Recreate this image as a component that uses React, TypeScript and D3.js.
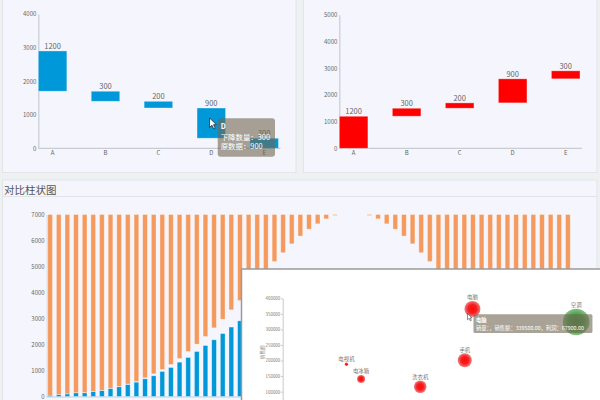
import React, { useEffect, useRef } from 'react';
import * as d3 from 'd3';

// waterfall data (two small panels on top)
const stepCats = ['A', 'B', 'C', 'D', 'E'];
const dropValues = [1200, 300, 200, 900, 300];
const riseValues = [1200, 300, 200, 900, 300];
const dropTicks = [0, 1000, 2000, 3000, 4000];
const riseTicks = [0, 1000, 2000, 3000, 4000, 5000];

// 对比柱状图: blue bars from 0, orange bars hang from the 7000 line down to orangeFrom
const compareBlue = [
  51, 77, 100, 141, 141, 190, 230, 308, 372, 460, 550, 680, 795, 962, 1115, 1320, 1500, 1730, 1960, 2180,
  2420, 2670, 2910, 3150, 3380, 3600, 3800, 3980, 4130, 4260, 4370, 4450, 4510, 4550, 4570, 4580, 4570,
  4550, 4510, 4450, 4370, 4260, 4130, 3980, 3800, 3600, 3380, 3150, 2910, 2670, 2420, 2180, 1960, 1730,
  1500, 1320, 1115, 962, 795, 680, 550,
];
const compareOrangeFrom = [
  50, 80, 100, 145, 150, 200, 240, 320, 385, 480, 575, 718, 872, 1038, 1230, 1460, 1730, 2013, 2308, 2641,
  2974, 3333, 3690, 4060, 4440, 4820, 5192, 5530, 5872, 6170, 6436, 6641, 6833, 6962, 7000, 7000, 7000,
  6962, 6833, 6641, 6436, 6170, 5872, 5530, 5192, 4820, 4440, 4060, 3690, 3333, 2974, 2641, 2308, 2013,
  1730, 1460, 1230, 1038, 872, 718, 575,
];
const compareTop = 7000;
const compareTicks = [0, 1000, 2000, 3000, 4000, 5000, 6000, 7000];
const compareCats = compareBlue.map((_, i) => String(i + 1));

// bubble chart (overlay)
const productNames = ['电视机', '电冰箱', '洗衣机', '手机', '电脑', '空调'];
const productSales = [830, 1020, 1790, 2370, 2470, 3820];
const productRevenue = [188000, 141000, 116000, 201000, 366000, 324000];
const productProfit = [3400, 17000, 42000, 52000, 67900, 188000];
const revenueTicks = [100000, 150000, 200000, 250000, 300000, 350000, 400000];

const FONT = '"Noto Sans CJK SC", "Noto Sans", sans-serif';
const PANEL_BG = '#f5f6fd';
const BLUE = '#0098d9';
const ORANGE = '#f59a5e';
const TIP_BG = 'rgba(112,102,82,0.6)';
const plain = d3.format('d');

const cursorPath = 'M0,0 L0,11.5 L3,8.8 L5.2,13.4 L7,12.6 L4.9,8.1 L8.4,8.1 Z';

const App = () => {
  const svgRef = useRef<SVGSVGElement>(null);

  useEffect(() => {
    if (!svgRef.current) return;
    const svg = d3.select(svgRef.current);
    svg.selectAll('*').remove();

    const defs = svg.append('defs');
    const red = defs.append('radialGradient').attr('id', 'bubbleRed');
    red.append('stop').attr('offset', '0%').attr('stop-color', '#ff0a0a');
    red.append('stop').attr('offset', '55%').attr('stop-color', '#f52020');
    red.append('stop').attr('offset', '100%').attr('stop-color', 'rgba(238,80,80,0.75)');
    const green = defs.append('radialGradient').attr('id', 'bubbleGreen');
    green.append('stop').attr('offset', '0%').attr('stop-color', '#3f8f3f');
    green.append('stop').attr('offset', '60%').attr('stop-color', '#4fa04f');
    green.append('stop').attr('offset', '100%').attr('stop-color', 'rgba(100,180,100,0.8)');

    // page background
    svg.append('rect').attr('width', 600).attr('height', 400).attr('fill', '#edf1f2');

    // ---------- waterfall panels ----------
    const drawWaterfall = (
      left: number,
      values: number[],
      ticks: number[],
      xRange: [number, number],
      yRange: [number, number],
      color: string,
      falling: boolean,
    ) => {
      const g = svg.append('g');
      g.append('rect')
        .attr('x', left).attr('y', -2).attr('width', 293.5).attr('height', 174.5)
        .attr('fill', PANEL_BG).attr('stroke', '#e1e5ea');

      const x = d3.scaleBand().domain(stepCats).range(xRange).paddingInner(0.46).paddingOuter(0);
      const y = d3.scaleLinear().domain([ticks[0], ticks[ticks.length - 1]]).range(yRange);

      let running = falling ? d3.sum(values) : 0;
      const steps = values.map((v, i) => {
        const lo = falling ? running - v : running;
        const hi = falling ? running : running + v;
        running = falling ? running - v : running + v;
        return { cat: stepCats[i], v, lo, hi };
      });

      const yAxis = g.append('g')
        .attr('transform', `translate(${xRange[0]},0)`)
        .call(d3.axisLeft(y).tickValues(ticks).tickFormat(plain).tickSize(0).tickSizeOuter(0).tickPadding(2));
      const xAxis = g.append('g')
        .attr('transform', `translate(0,${yRange[0]})`)
        .call(d3.axisBottom(x).tickSize(0).tickSizeOuter(0).tickPadding(2));
      [yAxis, xAxis].forEach((a) => {
        a.select('.domain').attr('stroke', '#c9ccd2').attr('stroke-width', 1.2);
        a.selectAll('text').attr('fill', '#666').style('font-size', '6px').style('font-family', FONT);
      });
      xAxis.select('.domain').attr('d', `M${xRange[0]},0H${xRange[1] + 2}`);

      g.selectAll('rect.step')
        .data(steps)
        .join('rect')
        .attr('class', 'step')
        .attr('x', (d) => x(d.cat)!)
        .attr('width', x.bandwidth())
        .attr('y', (d) => y(d.hi))
        .attr('height', (d) => y(d.lo) - y(d.hi))
        .attr('fill', color)
        .attr('stroke', 'rgba(255,255,255,0.45)')
        .attr('stroke-width', 0.8);

      g.selectAll('text.lbl')
        .data(steps)
        .join('text')
        .attr('class', 'lbl')
        .attr('x', (d) => x(d.cat)! + x.bandwidth() / 2)
        .attr('y', (d) => y(d.hi) - 2)
        .attr('text-anchor', 'middle')
        .attr('fill', '#666')
        .style('font-size', '7.5px')
        .style('font-family', FONT)
        .text((d) => d.v);

      return { g, x, y, steps };
    };

    const leftWf = drawWaterfall(2.5, dropValues, dropTicks, [38.3, 278.5], [148.3, 14], BLUE, true);
    drawWaterfall(303.5, riseValues, riseTicks, [339.3, 580], [148.3, 14.7], '#ff0000', false);

    // tooltip on bar D of the falling waterfall
    {
      const d = leftWf.steps[3];
      const bx = leftWf.x(d.cat)!;
      const by = leftWf.y(d.hi);
      const cx = bx + 12.5;
      const cy = by + 10;
      leftWf.g.append('path')
        .attr('d', cursorPath)
        .attr('transform', `translate(${cx},${cy}) scale(0.82)`)
        .attr('fill', '#fff').attr('stroke', '#222').attr('stroke-width', 0.9);
      const tx = bx + 20.7;
      const ty = by + 10.3;
      leftWf.g.append('rect')
        .attr('x', tx).attr('y', ty).attr('width', 57.3).attr('height', 38.4).attr('rx', 3)
        .attr('fill', TIP_BG);
      const lines = [
        { t: d.cat, bold: true },
        { t: `下降数量：${dropValues[4]}`, bold: false },
        { t: `原数据：${d.v}`, bold: false },
      ];
      lines.forEach((l, i) => {
        leftWf.g.append('text')
          .attr('x', tx + 3)
          .attr('y', ty + 11 + i * 8.6 + (i > 0 ? 2.4 : 0))
          .attr('fill', '#fff')
          .attr('font-weight', l.bold ? 'bold' : 'normal')
          .style('font-size', l.bold ? '7px' : '7.4px')
          .style('font-family', FONT)
          .text(l.t);
      });
    }

    // ---------- 对比柱状图 ----------
    svg.append('rect')
      .attr('x', 2.5).attr('y', 180).attr('width', 594.5).attr('height', 230)
      .attr('fill', PANEL_BG).attr('stroke', '#e1e5ea');
    svg.append('line')
      .attr('x1', 2.5).attr('x2', 597).attr('y1', 196.5).attr('y2', 196.5)
      .attr('stroke', '#e1e5ea').attr('stroke-width', 1.2);
    svg.append('text')
      .attr('x', 4).attr('y', 194)
      .attr('fill', '#555')
      .style('font-size', '10.5px')
      .style('font-family', FONT)
      .text('对比柱状图');

    const cx = d3.scaleBand().domain(compareCats).range([45.8, 572.2]).paddingInner(0.455).paddingOuter(0.2275);
    const cy = d3.scaleLinear().domain([0, compareTop]).range([396.5, 214.5]);

    const cAxisY = svg.append('g')
      .attr('transform', 'translate(46.7,0)')
      .call(d3.axisLeft(cy).tickValues(compareTicks).tickFormat(plain).tickSize(0).tickSizeOuter(0).tickPadding(2));
    cAxisY.select('.domain').attr('stroke', '#d3d6db').attr('stroke-width', 1);
    cAxisY.selectAll('text').attr('fill', '#666').style('font-size', '6px').style('font-family', FONT);
    svg.append('g')
      .attr('transform', 'translate(0,396.5)')
      .call(d3.axisBottom(cx).tickValues([]).tickSizeOuter(0))
      .select('.domain').attr('stroke', '#c9ccd2').attr('stroke-width', 1.2);

    svg.selectAll('rect.cblue')
      .data(compareBlue)
      .join('rect')
      .attr('class', 'cblue')
      .attr('x', (_, i) => cx(compareCats[i])!)
      .attr('width', cx.bandwidth())
      .attr('y', (d) => cy(d))
      .attr('height', (d) => cy(0) - cy(d))
      .attr('fill', BLUE)
      .attr('stroke', 'rgba(255,255,255,0.45)')
      .attr('stroke-width', 0.7);

    svg.selectAll('rect.corange')
      .data(compareOrangeFrom)
      .join('rect')
      .attr('class', 'corange')
      .attr('x', (_, i) => cx(compareCats[i])!)
      .attr('width', cx.bandwidth())
      .attr('y', cy(compareTop))
      .attr('height', (d) => cy(d) - cy(compareTop))
      .attr('fill', ORANGE)
      .attr('stroke', (d) => (d >= compareTop ? 'none' : 'rgba(255,255,255,0.45)'))
      .attr('stroke-width', 0.7);

    // ---------- bubble chart overlay ----------
    const sg = svg.append('g');
    sg.append('rect')
      .attr('x', 241.5).attr('y', 269).attr('width', 362).attr('height', 140)
      .attr('fill', '#fff').attr('stroke', '#9a9a9a').attr('stroke-width', 1.5);

    const sx = d3.scaleLinear().domain([0, 4000]).range([282.7, 590]);
    const sy = d3.scaleLinear().domain([0, 400000]).range([422.8, 298.3]);
    const sr = d3.scaleSqrt().domain([0, 67900]).range([0, 8]);

    const sAxis = sg.append('g')
      .attr('transform', 'translate(282.7,0)')
      .call(d3.axisLeft(sy).tickValues(revenueTicks).tickFormat(plain).tickSize(1.5).tickSizeOuter(0).tickPadding(1));
    sAxis.select('.domain').attr('stroke', '#bbb').attr('stroke-width', 0.8);
    sAxis.selectAll('line').attr('stroke', '#bbb');
    sAxis.selectAll('text').attr('fill', '#777').style('font-size', '4.4px').style('font-family', FONT);
    sg.append('text')
      .attr('transform', 'translate(263.5,352.3) rotate(-90)')
      .attr('text-anchor', 'middle')
      .attr('fill', '#888')
      .style('font-size', '4.6px')
      .style('font-family', FONT)
      .text('销售额');

    const products = productNames.map((name, i) => ({
      name,
      sales: productSales[i],
      revenue: productRevenue[i],
      profit: productProfit[i],
    }));

    sg.selectAll('circle.prod')
      .data(products)
      .join('circle')
      .attr('class', 'prod')
      .attr('cx', (d) => sx(d.sales))
      .attr('cy', (d) => sy(d.revenue))
      .attr('r', (d) => sr(d.profit))
      .attr('fill', (d) => (d.profit > 100000 ? 'url(#bubbleGreen)' : 'url(#bubbleRed)'));

    sg.selectAll('text.prod')
      .data(products)
      .join('text')
      .attr('class', 'prod')
      .attr('x', (d) => sx(d.sales))
      .attr('y', (d) => sy(d.revenue) - sr(d.profit) - 1.6)
      .attr('text-anchor', 'middle')
      .attr('fill', '#777')
      .style('font-size', '5.4px')
      .style('font-family', FONT)
      .text((d) => d.name);

    // tooltip on 电脑
    {
      const p = products[4];
      const px = sx(p.sales);
      const py = sy(p.revenue);
      sg.append('path')
        .attr('d', cursorPath)
        .attr('transform', `translate(${px - 5},${py + 4.6}) scale(0.55)`)
        .attr('fill', '#fff').attr('stroke', '#333').attr('stroke-width', 1);
      const tx = px + 1;
      const ty = py + 5.3;
      sg.append('rect')
        .attr('x', tx).attr('y', ty).attr('width', 119).attr('height', 18.7).attr('rx', 1.5)
        .attr('fill', TIP_BG);
      sg.append('text')
        .attr('x', tx + 2.5).attr('y', ty + 7.6)
        .attr('fill', '#fff').attr('font-weight', 'bold')
        .style('font-size', '5.3px').style('font-family', FONT)
        .text(p.name);
      sg.append('text')
        .attr('x', tx + 2.5).attr('y', ty + 15.5)
        .attr('fill', '#fff')
        .style('font-size', '5.3px').style('font-family', FONT)
        .text(`销量：，销售额：${(339500).toFixed(2)}，利润：${p.profit.toFixed(2)}`);
    }
  }, []);

  return (
    <svg
      ref={svgRef}
      width={600}
      height={400}
      style={{ position: 'absolute', left: 0, top: 0, display: 'block' }}
    />
  );
};

export default App;
